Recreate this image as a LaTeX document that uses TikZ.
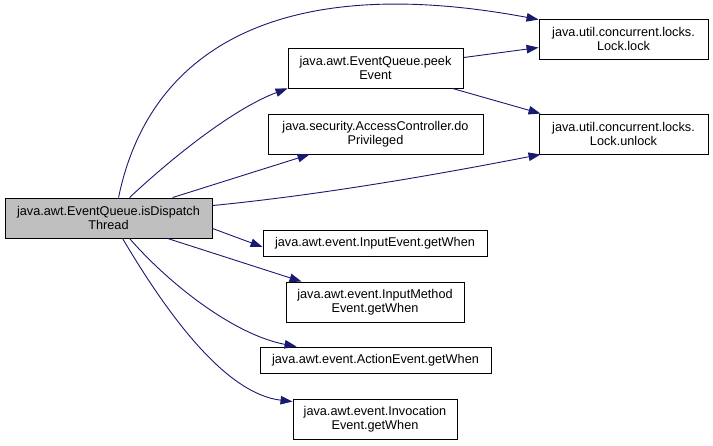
\documentclass[tikz,border=0pt]{standalone}
\usepackage{fontspec}
\setmainfont{Liberation Sans}
\usetikzlibrary{arrows.meta}
\definecolor{edgecol}{HTML}{191970}
\definecolor{mainfill}{HTML}{BFBFBF}
\tikzset{
  box/.style={draw=black, line width=0.9pt, inner sep=0pt, align=center,
    font=\fontsize{12.7}{14}\selectfont, text=black, fill=white},
  edge/.style={draw=edgecol, line width=0.9pt,
    -{Triangle[length=12pt,width=8.5pt]}},
}
\begin{document}
\begin{tikzpicture}[x=1pt,y=-1pt]
\useasboundingbox (0,0) rectangle (713,445);
\node[box, fill=mainfill, minimum width=207pt, minimum height=40pt] (main) at (108.5,218) {java.awt.EventQueue.isDispatch\\Thread};
\node[box, minimum width=175pt, minimum height=40pt] (peek) at (375.5,68) {java.awt.EventQueue.peek\\Event};
\node[box, minimum width=215pt, minimum height=40pt] (acc) at (375.5,134) {java.security.AccessController.do\\Privileged};
\node[box, minimum width=169pt, minimum height=40pt] (lock) at (623.5,39) {java.util.concurrent.locks.\\Lock.lock};
\node[box, minimum width=169pt, minimum height=40pt] (unlock) at (623.5,134) {java.util.concurrent.locks.\\Lock.unlock};
\node[box, minimum width=224pt, minimum height=26pt] (ie) at (375,243) {java.awt.event.InputEvent.getWhen};
\node[box, minimum width=178pt, minimum height=40pt] (ime) at (375,302) {java.awt.event.InputMethod\\Event.getWhen};
\node[box, minimum width=231pt, minimum height=26pt] (ae) at (375.5,360) {java.awt.event.ActionEvent.getWhen};
\node[box, minimum width=164pt, minimum height=40pt] (inv) at (375,419) {java.awt.event.Invocation\\Event.getWhen};

\draw[edge] ([xshift=114pt]main.north west) .. controls (150,45) and (285,-28) .. ([yshift=-1pt]lock.north west);
\draw[edge] ([xshift=125pt]main.north west) .. controls (175,155) and (235,108) .. (peek.south west);
\draw[edge] ([xshift=168pt]main.north west) -- ([xshift=42pt]acc.south west);
\draw[edge] ([yshift=-8pt]main.north east) .. controls (330,194) and (450,172) .. ([xshift=2pt]unlock.south west);
\draw[edge] ([yshift=-10pt]peek.north east) -- ([yshift=-29pt]lock.north west);
\draw[edge] ([xshift=-11pt]peek.south east) -- ([xshift=2pt]unlock.north west);
\draw[edge] ([yshift=10pt]main.south east) -- ([yshift=-4pt]ie.west);
\draw[edge] ([xshift=163pt]main.south west) -- ([xshift=16pt]ime.north west);
\draw[edge] ([xshift=125pt]main.south west) .. controls (170,285) and (235,335) .. ([xshift=37pt]ae.north west);
\draw[edge] ([xshift=118pt]main.south west) .. controls (172,322) and (228,394) .. ([yshift=-3pt]inv.north west);
\end{tikzpicture}
\end{document}
